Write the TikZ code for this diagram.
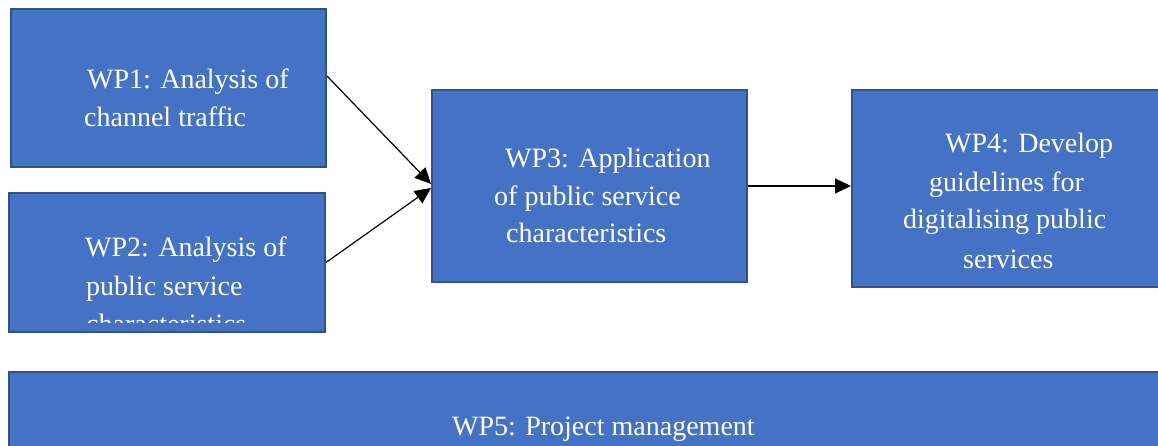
\documentclass[tikz,border=0pt]{standalone}
\usepackage{fontspec}
\setmainfont{Liberation Serif}
\usetikzlibrary{arrows.meta}
\definecolor{boxblue}{HTML}{4472C4}
\definecolor{boxline}{HTML}{2F528F}
\tikzset{
  wpbox/.style={draw=boxline, fill=boxblue, line width=2pt, inner sep=0pt},
  wptext/.style={anchor=base west, inner sep=0pt, text=white, font=\fontsize{28}{38}\selectfont},
  conn/.style={draw=black, line width=1.2pt, -{Triangle[length=16pt,width=15pt]}}
}
\begin{document}
\begin{tikzpicture}[x=1pt,y=-1pt]
\useasboundingbox (0,0) rectangle (1158,446);
\clip (0,0) rectangle (1158,446);
% boxes
\node[wpbox, minimum width=315pt, minimum height=158pt] (wp1) at (168.5,88) {};
\node[wpbox, minimum width=316pt, minimum height=139pt] (wp2) at (167,262.5) {};
\node[wpbox, minimum width=315pt, minimum height=192pt] (wp3) at (589.5,186) {};
\node[wpbox, minimum width=330pt, minimum height=197pt] (wp4) at (1017,188.5) {};
\node[wpbox, minimum width=1170pt, minimum height=100pt] (wp5) at (594,422) {};
% texts
\node[wptext] (t1a) at (87,89) {WP1: Analysis of};
\node[wptext] (t1b) at (84,127) {channel traffic};
\node[wptext] (t2a) at (85,257) {WP2: Analysis of};
\node[wptext] (t2b) at (86,295) {public service};
\begin{scope}
\clip (60,300) rectangle (320,322);
\node[wptext] (t2c) at (86,333) {characteristics};
\end{scope}
\node[wptext] (t3a) at (505,168) {WP3: Application};
\node[wptext] (t3b) at (494,206) {of public service};
\node[wptext] (t3c) at (506,243) {characteristics};
\node[wptext] (t4a) at (945,153) {WP4: Develop};
\node[wptext] (t4b) at (929,192) {guidelines for};
\node[wptext] (t4c) at (903,229) {digitalising public};
\node[wptext] (t4d) at (963,268) {services};
\begin{scope}
\clip (400,380) rectangle (800,440);
\node[wptext] (t5) at (452,435) {WP5: Project management};
\end{scope}
% connectors
\draw[conn] ([yshift=12pt]wp1.east) -- ([yshift=2pt]wp3.west);
\draw[conn] (wp2.east) -- ([yshift=-2pt]wp3.west);
\draw[conn] (wp3.east) -- (wp3.east -| wp4.west);
\end{tikzpicture}
\end{document}
